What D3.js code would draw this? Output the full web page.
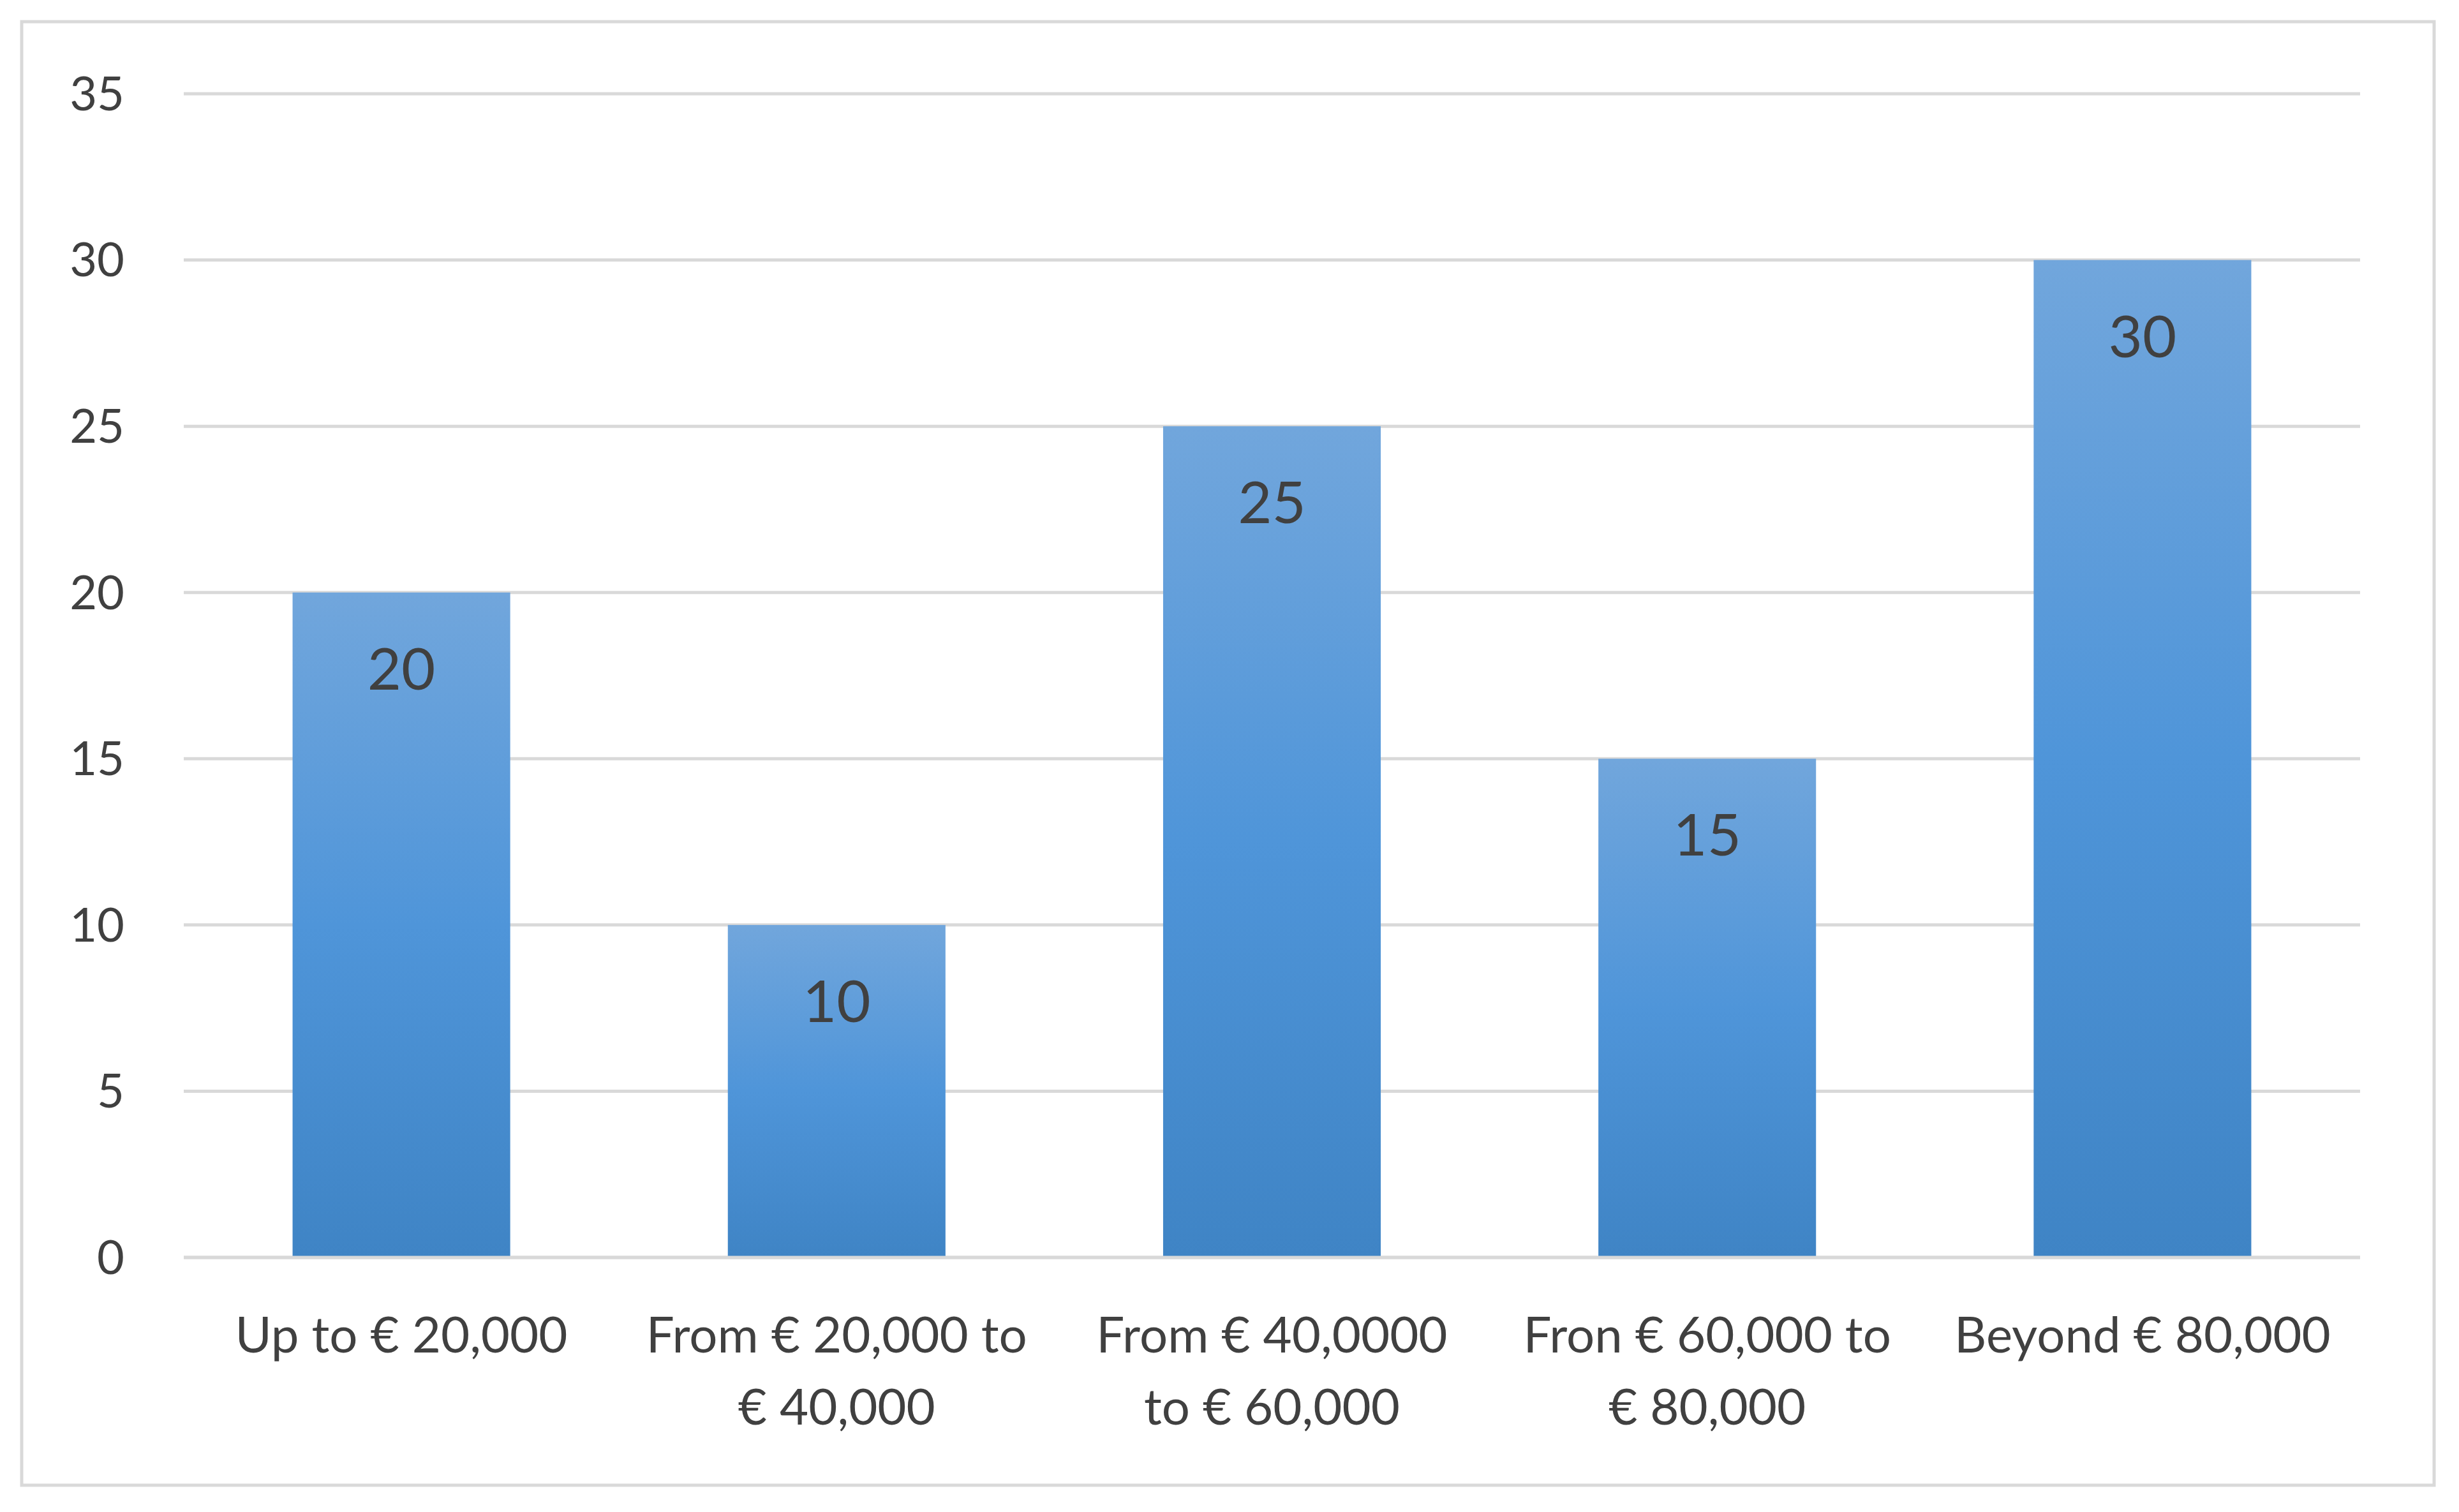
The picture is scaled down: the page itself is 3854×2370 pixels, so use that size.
<!DOCTYPE html>
<html><head><meta charset="utf-8">
<script src="https://cdn.jsdelivr.net/npm/d3@7"></script>
<style>body{margin:0;background:#fff}text{font-family:Lato,"Open Sans",sans-serif;fill:#404040}</style>
</head><body><svg id="chart"></svg>
<script>
// Chart data
const categories = [["Up to € 20,000"], ["From € 20,000 to", "€ 40,000"], ["From € 40,0000", "to € 60,000"], ["Fron € 60,000 to", "€ 80,000"], ["Beyond € 80,000"]];
const values = [20, 10, 25, 15, 30];
const yTicks = [0, 5, 10, 15, 20, 25, 30, 35];

const W = 3854, H = 2370;
const svg = d3.select("#chart").attr("width", W).attr("height", H);

// outer border
svg.append("rect").attr("x", 34).attr("y", 34).attr("width", 3781).attr("height", 2294)
  .attr("fill", "#fff").attr("stroke", "#d9d9d9").attr("stroke-width", 5);

const x = d3.scaleBand().domain(d3.range(values.length)).range([288, 3699]).paddingInner(0.5).paddingOuter(0.25);
const y = d3.scaleLinear().domain([0, 35]).range([1971, 147]);

const grad = svg.append("defs").append("linearGradient").attr("id", "g").attr("x1", 0).attr("x2", 0).attr("y1", 0).attr("y2", 1);
grad.append("stop").attr("offset", "0%").attr("stop-color", "#71a6dc");
grad.append("stop").attr("offset", "50%").attr("stop-color", "#4f95d9");
grad.append("stop").attr("offset", "100%").attr("stop-color", "#3f84c5");

// gridlines + tick labels
svg.selectAll(".grid").data(yTicks).enter().append("line")
  .attr("x1", 288).attr("x2", 3699).attr("y1", d => y(d)).attr("y2", d => y(d))
  .attr("stroke", "#d9d9d9").attr("stroke-width", 5);
svg.selectAll(".yt").data(yTicks).enter().append("text")
  .attr("x", 195).attr("y", d => y(d)).attr("dy", "0.35em").attr("text-anchor", "end")
  .attr("font-size", 74).text(d => d);

// bars
svg.selectAll(".bar").data(values).enter().append("rect")
  .attr("x", (d, i) => x(i)).attr("width", x.bandwidth())
  .attr("y", d => y(d)).attr("height", d => y(0) - y(d)).attr("fill", "url(#g)");
svg.selectAll(".vl").data(values).enter().append("text")
  .attr("x", (d, i) => x(i) + x.bandwidth() / 2).attr("y", d => y(d) + 120).attr("dy", "0.35em")
  .attr("text-anchor", "middle").attr("font-size", 92).text(d => d);

// axis line
svg.append("line").attr("x1", 288).attr("x2", 3699).attr("y1", y(0)).attr("y2", y(0))
  .attr("stroke", "#d9d9d9").attr("stroke-width", 5);

// category labels
categories.forEach((lines, i) => {
  const t = svg.append("text").attr("text-anchor", "middle").attr("font-size", 78)
    .attr("x", x(i) + x.bandwidth() / 2).attr("y", 2120);
  lines.forEach((l, j) => t.append("tspan").attr("x", x(i) + x.bandwidth() / 2).attr("dy", j ? 113 : 0).text(l));
});
</script></body></html>
